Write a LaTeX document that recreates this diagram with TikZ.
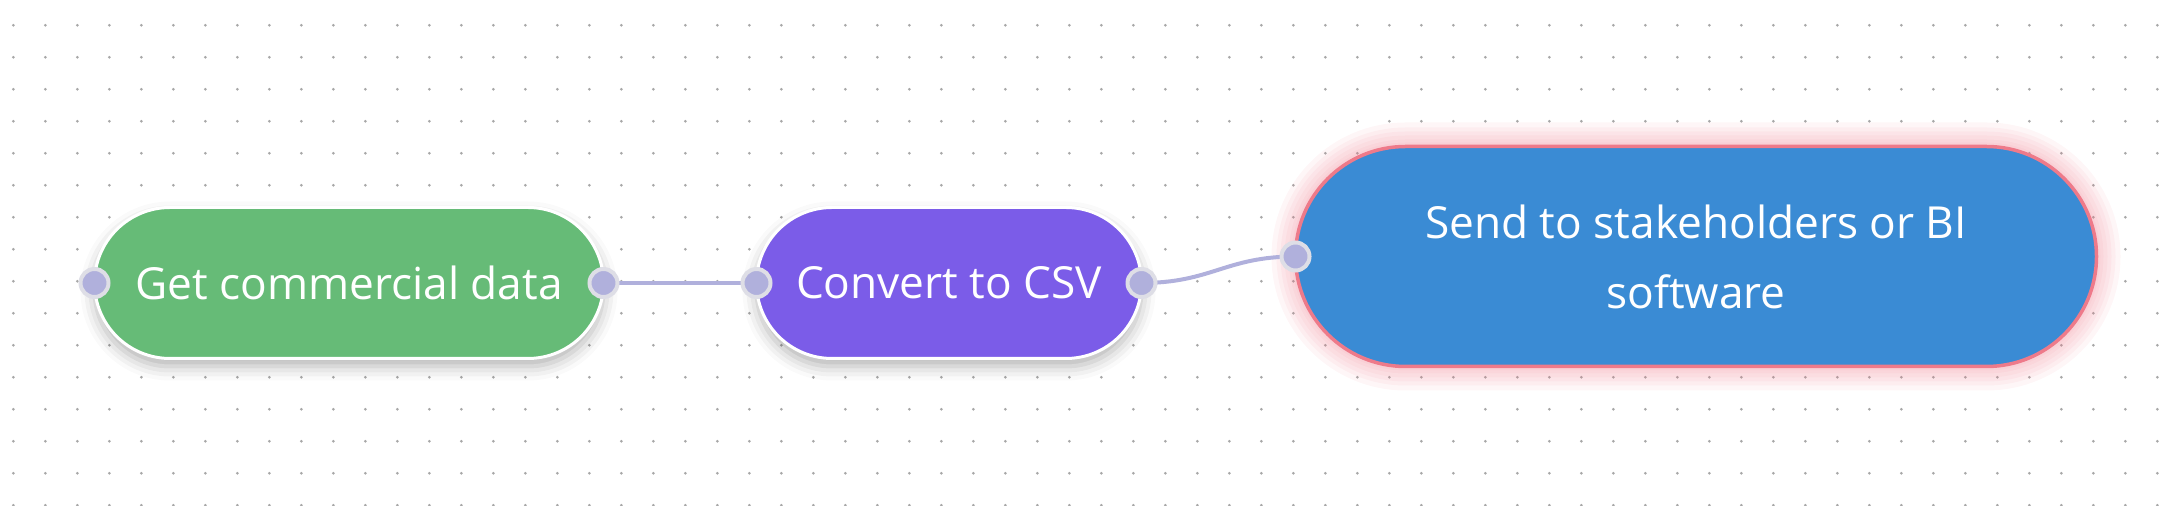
\documentclass[tikz,border=0pt]{standalone}
\usepackage{fontspec}
\setmainfont{Open Sans}
\usetikzlibrary{shadows.blur}

\definecolor{gridgray}{HTML}{A8A8A8}
\definecolor{stepgreen}{HTML}{66BB77}
\definecolor{steppurple}{HTML}{7B5CE8}
\definecolor{stepblue}{HTML}{3A8BD4}
\definecolor{edgepink}{HTML}{EE7A8A}
\definecolor{handlefill}{HTML}{B0B0DC}
\definecolor{handlering}{HTML}{DEDEE6}

\begin{document}
\begin{tikzpicture}
    [x=0.5pt,y=-0.5pt,
     every node/.style={inner sep=0pt,outer sep=0pt},
     stepbox/.style={rectangle,rounded corners=37.75pt,minimum height=75.5pt,
       draw=white,line width=1.5pt,text=white,align=center,
       font=\fontsize{22.1}{35}\selectfont},
     greyshadow/.style={blur shadow={shadow xshift=0pt,shadow yshift=-4pt,
       shadow blur radius=7pt,shadow opacity=30}},
     glowring/.style={preaction={draw=edgepink,draw opacity=0.07,line width=#1}},
     pinkglow/.style={glowring=24pt,glowring=19pt,glowring=15pt,glowring=11pt,
       glowring=7pt,glowring=4pt},
     handle/.style={circle,minimum size=14pt,fill=handlefill,draw=handlering,line width=2pt},
     link/.style={draw=handlefill,line width=2pt}]
      \useasboundingbox (0,0) rectangle (2168,506);

      % dotted background
      \foreach \i in {0,...,67}
        \foreach \j in {0,...,15}
          \fill[gridgray] (13.3+32*\i,25.3+32*\j) circle (0.75pt);

      \node (get)  [stepbox,greyshadow,fill=stepgreen,minimum width=254.5pt]  at (349,283)    {Get commercial data};
      \node (conv) [stepbox,greyshadow,fill=steppurple,minimum width=192.5pt] at (949,283)    {Convert to CSV};
      \node (send) [stepbox,pinkglow,fill=stepblue,draw=edgepink,line width=1.75pt,
                    minimum width=400.5pt,minimum height=110pt,rounded corners=55pt] at (1696,256.5) {Send to stakeholders or BI\\software};

      \draw[link] (get.east) -- (conv.west);
      \draw[link] (conv.east) .. controls +(70,0) and +(-70,0) .. (send.west);

      \foreach \anchor in {get.west,get.east,conv.west,conv.east,send.west}
        \node [handle] at (\anchor) {};
    \end{tikzpicture}
\end{document}
